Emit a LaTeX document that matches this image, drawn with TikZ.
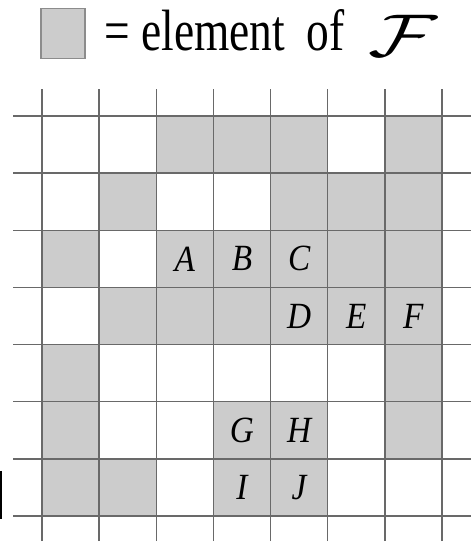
\RequirePackage{fix-cm}
\documentclass[tikz,border=0pt]{standalone}
\usepackage{fontspec}
\setmainfont{Liberation Serif}
\newfontfamily\keyfont[FakeStretch=0.78]{Liberation Serif}
\newfontfamily\tagfont[FakeStretch=0.9]{Liberation Serif}
\usetikzlibrary{positioning}

\definecolor{cellgray}{RGB}{204,204,204}
\definecolor{linegray}{RGB}{105,105,105}
\definecolor{keyedge}{RGB}{140,140,140}

\begin{document}
\begin{tikzpicture}[
    gridline/.style={draw=linegray, line width=0.75pt},
    member/.style={fill=cellgray},
    tag/.style={inner sep=0pt, font=\fontsize{18.4}{20}\tagfont\itshape},
    keybox/.style={rectangle, fill=cellgray, draw=keyedge, line width=0.6pt, minimum width=0.77cm, minimum height=0.875cm, inner sep=0pt},
    keytext/.style={inner sep=0pt, anchor=base west, font=\fontsize{29}{34}\keyfont}
]
\useasboundingbox (-0.735,-7.473) rectangle (7.578,2.03);

% Legend
\node[keybox] (key) at (0.368,1.45) {};
\node[keytext] (keylabel) at (1.085,1.155) {= element\hspace{5pt} of\hspace{12pt}\raisebox{-3pt}{\scalebox{1.4}[1]{\fontsize{30}{34}\selectfont$\mathcal{F}$}}};

% Elements of F, row by row
\fill[member] (2,0) rectangle (5,-1) (6,0) rectangle (7,-1);
\fill[member] (1,-1) rectangle (2,-2) (4,-1) rectangle (7,-2);
\fill[member] (0,-2) rectangle (1,-3) (2,-2) rectangle (7,-3);
\fill[member] (1,-3) rectangle (7,-4);
\fill[member] (0,-4) rectangle (1,-5) (6,-4) rectangle (7,-5);
\fill[member] (0,-5) rectangle (1,-6) (3,-5) rectangle (5,-6) (6,-5) rectangle (7,-6);
\fill[member] (0,-6) rectangle (2,-7) (3,-6) rectangle (5,-7);

% Grid
\draw[gridline] (-0.5,-7.44) grid (7.5,0.47);

% Cell labels
\node[tag] (A) at (2.5,-2.5) {A};
\node[tag] (B) at (3.5,-2.5) {B};
\node[tag] (C) at (4.5,-2.5) {C};
\node[tag] (D) at (4.5,-3.5) {D};
\node[tag] (E) at (5.5,-3.5) {E};
\node[tag] (F) at (6.5,-3.5) {F};
\node[tag] (G) at (3.5,-5.5) {G};
\node[tag] (H) at (4.5,-5.5) {H};
\node[tag] (I) at (3.5,-6.5) {I};
\node[tag] (J) at (4.5,-6.5) {J};

% Edge mark on the left
\draw[line width=1pt] (-0.717,-6.21) -- (-0.717,-7.05);

\end{tikzpicture}
\end{document}
